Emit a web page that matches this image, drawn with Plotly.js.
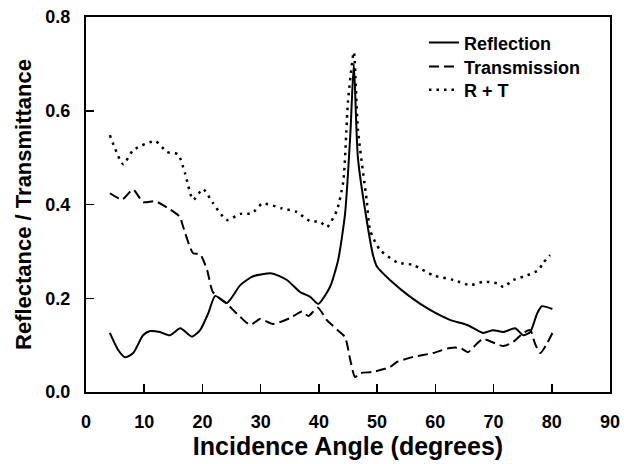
<!DOCTYPE html>
<html>
<head>
<meta charset="utf-8">
<script src="https://cdn.plot.ly/plotly-3.0.1.min.js"></script>
<style>html,body{margin:0;padding:0;background:#fff;}#chart{width:624px;height:464px;}</style>
</head>
<body>
<div id="chart"></div>
<script>
const reflAngle = [4.1,5.5,6.7,8.1,9.8,11.0,12.7,14.4,16.2,18.2,19.6,21.0,22.2,24.2,26.5,28.7,31.9,34.5,36.8,38.5,39.9,41.9,43.3,44.5,45.4,46.0,46.7,48.3,49.3,50.0,52.2,55.7,59.1,62.5,65.5,68.2,69.9,71.7,73.7,75.1,76.3,77.5,78.3,80.1];
const reflValue = [0.126,0.090,0.074,0.083,0.121,0.130,0.128,0.121,0.136,0.118,0.132,0.168,0.205,0.190,0.228,0.247,0.253,0.239,0.213,0.203,0.188,0.224,0.281,0.381,0.550,0.700,0.500,0.360,0.292,0.267,0.239,0.203,0.175,0.154,0.143,0.126,0.132,0.128,0.136,0.121,0.128,0.168,0.183,0.177];

const transAngle = [4.1,6.2,8.1,9.8,11.9,14.1,16.2,16.5,18.4,19.6,20.8,21.8,24.2,26.5,28.2,29.9,32.1,35.1,37.1,38.2,39.8,41.4,43.6,44.5,45.4,46.2,47.1,49.3,52.2,53.4,56.2,59.6,62.5,64.3,65.6,67.2,68.2,71.7,73.4,75.1,76.3,77.1,78.0,79.2,80.1];
const transValue = [0.424,0.411,0.432,0.405,0.407,0.392,0.373,0.360,0.296,0.294,0.260,0.213,0.188,0.160,0.143,0.156,0.145,0.158,0.172,0.162,0.180,0.153,0.128,0.117,0.068,0.032,0.040,0.043,0.053,0.064,0.075,0.083,0.094,0.094,0.085,0.104,0.113,0.098,0.107,0.126,0.132,0.104,0.083,0.104,0.126];

const sumAngle = [4.1,6.4,8.1,11.9,13.9,15.8,17.0,18.4,20.1,21.8,24.2,26.5,28.5,30.3,33.6,36.2,38.4,40.2,41.4,43.1,44.2,45.0,46.0,46.7,48.2,48.8,50.5,53.4,56.2,59.6,63.1,66.0,68.2,70.6,71.7,73.4,75.8,77.7,78.5,79.7];
const sumValue = [0.548,0.486,0.516,0.535,0.512,0.507,0.467,0.410,0.433,0.403,0.367,0.380,0.381,0.402,0.392,0.384,0.365,0.363,0.352,0.388,0.450,0.620,0.725,0.560,0.410,0.345,0.303,0.277,0.271,0.249,0.239,0.228,0.235,0.232,0.224,0.239,0.249,0.260,0.275,0.292];

const seriesNames = ['Reflection','Transmission','R + T'];
const xTicks = [0,10,20,30,40,50,60,70,80,90];
const yTicks = [0.0,0.2,0.4,0.6,0.8];

const FONT = 'Liberation Sans, Arial, Helvetica, sans-serif';

const traces = [
  {x: reflAngle, y: reflValue, name: seriesNames[0], mode: 'lines', legend: 'legend',
   line: {color: '#000', width: 2, shape: 'spline', smoothing: 0.6, dash: 'solid'}},
  {x: transAngle, y: transValue, name: seriesNames[1], mode: 'lines', legend: 'legend2',
   line: {color: '#000', width: 2, shape: 'spline', smoothing: 0.6, dash: '10px,5px'}},
  {x: sumAngle, y: sumValue, name: seriesNames[2], mode: 'lines', legend: 'legend3',
   line: {color: '#000', width: 2.5, shape: 'spline', smoothing: 0.6, dash: '2.5px,5px'}}
];

function leg(yc) {
  return {x: 0.645, y: yc, xanchor: 'left', yanchor: 'middle',
          bgcolor: 'rgba(0,0,0,0)', borderwidth: 0,
          font: {family: FONT, size: 18, color: '#000', weight: 'bold'},
          itemwidth: 30};
}

const layout = {
  width: 624, height: 464,
  margin: {l: 86, r: 14, t: 17, b: 72},
  paper_bgcolor: '#fff', plot_bgcolor: '#fff',
  font: {family: FONT, color: '#000', size: 18, weight: 'bold'},
  showlegend: true,
  legend: leg(0.931),
  legend2: leg(0.867),
  legend3: leg(0.805),
  xaxis: {
    range: [0, 90], tickvals: xTicks, ticktext: xTicks.map(String),
    ticks: 'inside', ticklen: 8, tickwidth: 1.5, tickcolor: '#000',
    showline: true, linecolor: '#000', linewidth: 2, mirror: true,
    showgrid: false, zeroline: false,
    tickfont: {family: FONT, size: 18, color: '#000', weight: 'bold'},
    ticklabelstandoff: 12,
    title: {text: 'Incidence Angle (degrees)', standoff: 4,
            font: {family: FONT, size: 25, color: '#000', weight: 'bold'}}
  },
  yaxis: {
    range: [0, 0.8], tickvals: yTicks, ticktext: yTicks.map(v => v.toFixed(1)),
    ticks: 'inside', ticklen: 8, tickwidth: 1.5, tickcolor: '#000',
    showline: true, linecolor: '#000', linewidth: 2, mirror: true,
    showgrid: false, zeroline: false,
    tickfont: {family: FONT, size: 18, color: '#000', weight: 'bold'},
    ticklabelstandoff: 10,
    title: {text: 'Reflectance / Transmittance', standoff: 8,
            font: {family: FONT, size: 22, color: '#000', weight: 'bold'}}
  }
};

Plotly.newPlot('chart', traces, layout, {displayModeBar: false, staticPlot: true});
</script>
</body>
</html>
